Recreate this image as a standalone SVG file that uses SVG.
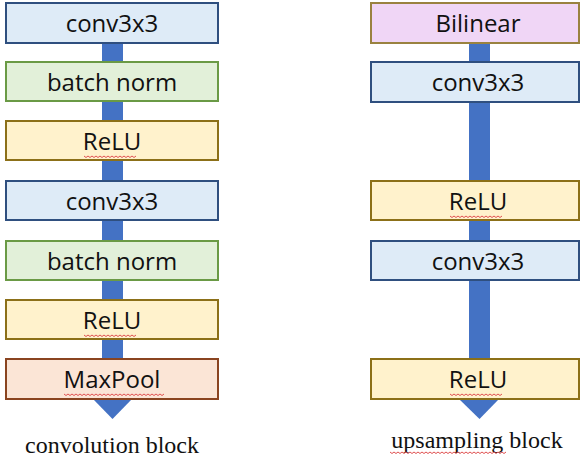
<svg xmlns="http://www.w3.org/2000/svg" width="580" height="461" viewBox="0 0 580 461">
<defs>
<style>
.conv{fill:#DEEBF7;stroke:#2F4F7F;stroke-width:2}
.bn{fill:#E2F0D9;stroke:#6A9A45;stroke-width:2}
.relu{fill:#FFF2CC;stroke:#8C7018;stroke-width:2}
.pool{fill:#FBE5D6;stroke:#8A4420;stroke-width:2}
.bil{fill:#F0D6F6;stroke:#9A8240;stroke-width:2}
.lbl{font-family:"Open Sans","Noto Sans",sans-serif;font-size:24px;fill:#111;text-anchor:middle}
.cap{font-family:"Liberation Serif",serif;font-size:24px;fill:#111;text-anchor:middle}
.shaft{fill:#4472C4}
.sq{fill:none;stroke:#E05050;stroke-width:1}
</style>
</defs>
<g id="connectors">
<rect class="shaft" x="102" y="43" width="21" height="357"/>
<polygon class="shaft" points="93,399 132,399 112.5,419"/>
<rect class="shaft" x="469" y="43" width="21" height="357"/>
<polygon class="shaft" points="459,399 499,399 479.5,419"/>
</g>
<g id="n-conv1"><rect class="conv" x="6" y="3" width="212" height="40"/><text class="lbl" x="112" y="32">conv3x3</text></g>
<g id="n-bn1"><rect class="bn" x="6" y="62" width="212" height="39"/><text class="lbl" x="112" y="91">batch norm</text></g>
<g id="n-relu1"><rect class="relu" x="6" y="121" width="212" height="39"/><text class="lbl" x="112" y="150">ReLU</text>
<path class="sq" d="M84,156 l2,1.5 l2,-1.5 l2,1.5 l2,-1.5 l2,1.5 l2,-1.5 l2,1.5 l2,-1.5 l2,1.5 l2,-1.5 l2,1.5 l2,-1.5 l2,1.5 l2,-1.5 l2,1.5 l2,-1.5 l2,1.5 l2,-1.5 l2,1.5 l2,-1.5 l2,1.5 l2,-1.5 l2,1.5 l2,-1.5 l2,1.5 l2,-1.5"/></g>
<g id="n-conv2"><rect class="conv" x="6" y="181" width="212" height="39"/><text class="lbl" x="112" y="210">conv3x3</text></g>
<g id="n-bn2"><rect class="bn" x="6" y="241" width="212" height="39"/><text class="lbl" x="112" y="270">batch norm</text></g>
<g id="n-relu2"><rect class="relu" x="6" y="300" width="212" height="39"/><text class="lbl" x="112" y="329">ReLU</text>
<path class="sq" d="M84,335 l2,1.5 l2,-1.5 l2,1.5 l2,-1.5 l2,1.5 l2,-1.5 l2,1.5 l2,-1.5 l2,1.5 l2,-1.5 l2,1.5 l2,-1.5 l2,1.5 l2,-1.5 l2,1.5 l2,-1.5 l2,1.5 l2,-1.5 l2,1.5 l2,-1.5 l2,1.5 l2,-1.5 l2,1.5 l2,-1.5 l2,1.5 l2,-1.5"/></g>
<g id="n-pool"><rect class="pool" x="6" y="359" width="212" height="40"/><text class="lbl" x="112" y="388">MaxPool</text>
<path class="sq" d="M64,394 l2,1.5 l2,-1.5 l2,1.5 l2,-1.5 l2,1.5 l2,-1.5 l2,1.5 l2,-1.5 l2,1.5 l2,-1.5 l2,1.5 l2,-1.5 l2,1.5 l2,-1.5 l2,1.5 l2,-1.5 l2,1.5 l2,-1.5 l2,1.5 l2,-1.5 l2,1.5 l2,-1.5 l2,1.5 l2,-1.5 l2,1.5 l2,-1.5 l2,1.5 l2,-1.5 l2,1.5 l2,-1.5 l2,1.5 l2,-1.5 l2,1.5 l2,-1.5 l2,1.5 l2,-1.5 l2,1.5 l2,-1.5 l2,1.5 l2,-1.5 l2,1.5 l2,-1.5 l2,1.5 l2,-1.5 l2,1.5 l2,-1.5 l2,1.5 l2,-1.5 l2,1.5 l2,-1.5"/></g>
<g id="n-bil"><rect class="bil" x="371" y="3" width="208" height="40"/><text class="lbl" x="478" y="32">Bilinear</text></g>
<g id="n-uconv1"><rect class="conv" x="371" y="62" width="208" height="40"/><text class="lbl" x="478" y="91">conv3x3</text></g>
<g id="n-urelu1"><rect class="relu" x="371" y="181" width="208" height="39"/><text class="lbl" x="478" y="210">ReLU</text>
<path class="sq" d="M450,216 l2,1.5 l2,-1.5 l2,1.5 l2,-1.5 l2,1.5 l2,-1.5 l2,1.5 l2,-1.5 l2,1.5 l2,-1.5 l2,1.5 l2,-1.5 l2,1.5 l2,-1.5 l2,1.5 l2,-1.5 l2,1.5 l2,-1.5 l2,1.5 l2,-1.5 l2,1.5 l2,-1.5 l2,1.5 l2,-1.5 l2,1.5 l2,-1.5"/></g>
<g id="n-uconv2"><rect class="conv" x="371" y="241" width="208" height="39"/><text class="lbl" x="478" y="270">conv3x3</text></g>
<g id="n-urelu2"><rect class="relu" x="371" y="359" width="208" height="40"/><text class="lbl" x="478" y="388">ReLU</text>
<path class="sq" d="M450,394 l2,1.5 l2,-1.5 l2,1.5 l2,-1.5 l2,1.5 l2,-1.5 l2,1.5 l2,-1.5 l2,1.5 l2,-1.5 l2,1.5 l2,-1.5 l2,1.5 l2,-1.5 l2,1.5 l2,-1.5 l2,1.5 l2,-1.5 l2,1.5 l2,-1.5 l2,1.5 l2,-1.5 l2,1.5 l2,-1.5 l2,1.5 l2,-1.5"/></g>
<g id="captions">
<text class="cap" x="477" y="448">upsampling block</text>
<text class="cap" x="112" y="453">convolution block</text>
<path class="sq" d="M390,452 l2,1.5 l2,-1.5 l2,1.5 l2,-1.5 l2,1.5 l2,-1.5 l2,1.5 l2,-1.5 l2,1.5 l2,-1.5 l2,1.5 l2,-1.5 l2,1.5 l2,-1.5 l2,1.5 l2,-1.5 l2,1.5 l2,-1.5 l2,1.5 l2,-1.5 l2,1.5 l2,-1.5 l2,1.5 l2,-1.5 l2,1.5 l2,-1.5 l2,1.5 l2,-1.5 l2,1.5 l2,-1.5 l2,1.5 l2,-1.5 l2,1.5 l2,-1.5 l2,1.5 l2,-1.5 l2,1.5 l2,-1.5 l2,1.5 l2,-1.5 l2,1.5 l2,-1.5 l2,1.5 l2,-1.5 l2,1.5 l2,-1.5 l2,1.5 l2,-1.5 l2,1.5 l2,-1.5 l2,1.5 l2,-1.5 l2,1.5 l2,-1.5 l2,1.5 l2,-1.5 l2,1.5 l2,-1.5"/>
</g>
</svg>
